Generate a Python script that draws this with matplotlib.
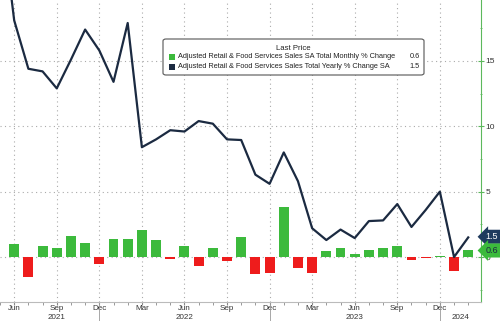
import numpy as np
import matplotlib
matplotlib.use("Agg")
import matplotlib.pyplot as plt
from matplotlib.patches import FancyBboxPatch, Rectangle
import matplotlib.transforms as mtransforms

plt.rcParams['font.family'] = ['Liberation Sans', 'DejaVu Sans']

# months from May 2021 to Feb 2024 (May 2021 only used for the line, clipped at left)
months = ['May', 'Jun', 'Jul', 'Aug', 'Sep', 'Oct', 'Nov', 'Dec',
          'Jan', 'Feb', 'Mar', 'Apr', 'May', 'Jun', 'Jul', 'Aug', 'Sep', 'Oct', 'Nov', 'Dec',
          'Jan', 'Feb', 'Mar', 'Apr', 'May', 'Jun', 'Jul', 'Aug', 'Sep', 'Oct', 'Nov', 'Dec',
          'Jan', 'Feb']
years = [2021] * 8 + [2022] * 12 + [2023] * 12 + [2024] * 2

# yearly % change (line)
yoy = [27.0, 18.1, 14.4, 14.2, 12.9, 15.1, 17.4, 15.8,
       13.4, 17.9, 8.4, 9.0, 9.7, 9.6, 10.4, 10.2, 9.0, 8.95, 6.3, 5.6,
       8.0, 5.8, 2.2, 1.3, 2.1, 1.45, 2.75, 2.8, 4.05, 2.3, 3.6, 5.0,
       0.0, 1.5]

# monthly % change (bars), no value for May 2021 shown
mom = [np.nan, 1.0, -1.51, 0.84, 0.69, 1.58, 1.10, -0.56,
       1.40, 1.38, 2.07, 1.30, -0.15, 0.84, -0.69, 0.66, -0.31, 1.51, -1.33, -1.25,
       3.85, -0.87, -1.25, 0.43, 0.66, 0.2, 0.51, 0.72, 0.82, -0.26, -0.05, 0.05,
       -1.05, 0.56]

last_mom = 0.6
last_yoy = 1.5

x = np.arange(len(months)) - 1  # Jun 2021 -> 0
mom = np.array(mom)
yoy = np.array(yoy)

GREEN = '#3cba3c'
RED = '#ee1c1c'
NAVY = '#1b2a41'

fig = plt.figure(figsize=(5.0, 3.21), dpi=100)
ax = fig.add_axes([0, 19 / 321, 481 / 500, 302 / 321])

colors = [GREEN if v >= 0 else RED for v in np.nan_to_num(mom)]
ax.bar(x, mom, width=0.7, color=colors, zorder=2)
ax.plot(x, yoy, color=NAVY, lw=1.6, zorder=3)

ax.set_xlim(-0.1, 32.9)
ax.set_ylim(-3.44, 19.66)

# y axis on the right
ax.yaxis.tick_right()
ax.set_yticks([0, 5, 10, 15])
ax.set_yticks(np.arange(-2.5, 19, 2.5), minor=True)
ax.tick_params(axis='y', which='both', direction='inout', length=4, color='#5cb85c',
               labelsize=6, labelcolor='#333333', pad=1)
ax.tick_params(axis='y', which='minor', length=2)

# x axis: quarter labels, monthly minor ticks
quarter_idx = [i for i, m in enumerate(months) if m in ('Mar', 'Jun', 'Sep', 'Dec')]
ax.set_xticks(x[quarter_idx])
ax.set_xticklabels([months[i] for i in quarter_idx])
ax.set_xticks(x, minor=True)
ax.tick_params(axis='x', which='both', direction='out', length=2, color='#888888',
               labelsize=5.8, labelcolor='#333333', pad=0.5)

for s in ['top', 'left']:
    ax.spines[s].set_visible(False)
ax.spines['right'].set_color('#5cb85c')
ax.spines['bottom'].set_color('#bbbbbb')

ax.grid(True, which='major', color='#aaaaaa', linestyle=(0, (1, 3)), lw=0.8, zorder=0)

# year separators and year labels
trans = mtransforms.blended_transform_factory(ax.transData, ax.transAxes)
dec_pos = [x[i] for i, m in enumerate(months) if m == 'Dec']
for d in dec_pos:
    ax.plot([d, d], [0, -0.065], transform=trans, color='#999999', lw=0.6, clip_on=False)
bounds = [-0.1] + dec_pos + [32.9]
for yr, (a, b) in zip(sorted(set(years)), zip(bounds[:-1], bounds[1:])):
    ax.text((a + b) / 2, -0.051, str(yr), transform=trans, ha='center', va='center',
            fontsize=5.8, color='#333333')

# last value tags on the right axis
ax.annotate(f'{last_yoy}', xy=(1.0, last_yoy), xycoords=('axes fraction', 'data'),
            xytext=(1.009, last_yoy + 0.05), textcoords=('axes fraction', 'data'),
            ha='left', va='center', fontsize=6.5, color='white',
            bbox=dict(boxstyle='larrow,pad=0.28', fc='#1f3b5e', ec='none'))
ax.annotate(f'{last_mom}', xy=(1.0, last_mom), xycoords=('axes fraction', 'data'),
            xytext=(1.009, last_mom - 0.1), textcoords=('axes fraction', 'data'),
            ha='left', va='center', fontsize=6.5, color='#1b2a41',
            bbox=dict(boxstyle='larrow,pad=0.28', fc=GREEN, ec='none'))

# legend box
box = FancyBboxPatch((163 / 500, 1 - 75 / 321), 261 / 500, 36 / 321,
                     boxstyle='round,pad=0,rounding_size=0.006', transform=fig.transFigure,
                     fc='white', ec='#555555', lw=0.8, zorder=5)
fig.patches.append(box)
fig.text(293 / 500, 1 - 48 / 321, 'Last Price', ha='center', va='center', fontsize=5.6,
         color='#222222', zorder=6)
entries = [(GREEN, 'Adjusted Retail & Food Services Sales SA Total Monthly % Change', last_mom),
           (NAVY, 'Adjusted Retail & Food Services Sales Total Yearly % Change SA', last_yoy)]
for k, (c, lab, val) in enumerate(entries):
    yy = 1 - (57 + 9.5 * k) / 321
    fig.patches.append(Rectangle((169 / 500, yy - 3 / 321), 6 / 500, 6 / 321,
                                 transform=fig.transFigure, fc=c, ec='none', zorder=6))
    fig.text(178 / 500, yy, lab, ha='left', va='center', fontsize=5.3, color='#222222', zorder=6)
    fig.text(420 / 500, yy, f'{val}', ha='right', va='center', fontsize=5.3, color='#222222', zorder=6)

fig.savefig('out.png', dpi=100)
